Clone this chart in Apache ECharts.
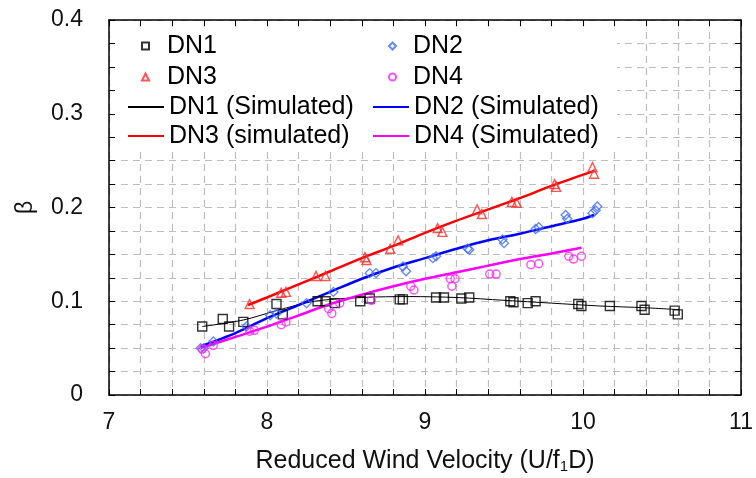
<!DOCTYPE html>
<html>
<head>
<meta charset="utf-8">
<script src="https://cdn.jsdelivr.net/npm/echarts@6/dist/echarts.min.js"></script>
<style>
  html, body { margin: 0; padding: 0; background: #fff; }
  #chart { width: 756px; height: 478px; }
</style>
</head>
<body>
<div id="chart"></div>
<script>
// ===== data =====
const dn1 = [[7.59,0.073],[7.72,0.081],[7.76,0.073],[7.85,0.078],[8.06,0.097],[8.10,0.086],[8.32,0.100],[8.37,0.100],
  [8.43,0.098],[8.59,0.100],[8.65,0.103],[8.84,0.102],[8.86,0.102],[9.07,0.104],[9.12,0.104],[9.23,0.103],[9.28,0.104],
  [9.54,0.100],[9.56,0.099],[9.65,0.098],[9.70,0.100],[9.97,0.097],[9.99,0.095],[10.17,0.095],[10.37,0.095],
  [10.39,0.091],[10.58,0.090],[10.60,0.086]]
const dn2 = [[7.58,0.050],[7.60,0.050],[7.66,0.057],[7.87,0.073],[8.02,0.085],[8.06,0.087],[8.25,0.098],[8.42,0.110],
  [8.65,0.130],[8.69,0.130],[8.86,0.137],[8.88,0.132],[9.05,0.146],[9.07,0.148],[9.27,0.156],[9.28,0.155],[9.49,0.166],
  [9.50,0.162],[9.70,0.177],[9.72,0.179],[9.89,0.192],[9.90,0.188],[10.06,0.194],[10.08,0.197],[10.09,0.201]]
const dn3 = [[7.89,0.097],[8.09,0.109],[8.12,0.110],[8.31,0.127],[8.37,0.127],[8.62,0.147],[8.63,0.144],[8.78,0.156],
  [8.83,0.165],[9.08,0.178],[9.11,0.174],[9.33,0.198],[9.36,0.193],[9.55,0.206],[9.58,0.205],[9.82,0.225],[9.83,0.222],
  [10.06,0.243],[10.07,0.236]]
const dn4 = [[7.59,0.049],[7.61,0.044],[7.66,0.053],[7.89,0.068],[7.92,0.069],[8.09,0.075],[8.12,0.078],[8.39,0.092],
  [8.41,0.087],[8.46,0.098],[8.66,0.101],[8.91,0.116],[8.93,0.112],[9.16,0.124],[9.19,0.124],[9.17,0.116],[9.41,0.129],
  [9.45,0.129],[9.67,0.139],[9.72,0.140],[9.91,0.148],[9.94,0.145],[9.99,0.148]]

const dn1Sim = [[7.59,0.073],[7.85,0.080],[8.06,0.090],[8.3,0.100],[8.6,0.104],[8.9,0.105],[9.2,0.104],[9.5,0.101],
  [9.8,0.098],[10.1,0.095],[10.4,0.093],[10.61,0.091]]
const dn2Sim = [[7.58,0.052],[7.8,0.066],[8.0,0.082],[8.2,0.096],[8.4,0.110],[8.6,0.124],[8.8,0.136],[9.0,0.146],
  [9.2,0.156],[9.4,0.165],[9.6,0.172],[9.8,0.180],[10.0,0.188],[10.07,0.192]]
const dn3Sim = [[7.88,0.096],[8.0,0.104],[8.2,0.118],[8.4,0.132],[8.6,0.146],[8.8,0.159],[9.0,0.173],[9.2,0.186],
  [9.4,0.198],[9.6,0.210],[9.8,0.223],[10.07,0.239]]
const dn4Sim = [[7.58,0.050],[7.8,0.062],[8.0,0.073],[8.2,0.085],[8.4,0.097],[8.6,0.107],[8.8,0.116],[9.0,0.124],
  [9.2,0.131],[9.4,0.138],[9.6,0.145],[9.8,0.151],[9.99,0.157]]

const FONT = '"Liberation Sans", Arial, sans-serif'
const gridLine = { show: true, lineStyle: { color: '#bdbdbd', type: [7, 5], width: 1.2 } }

// one legend per entry so the two columns land where the picture has them
function legendEntry(name, left, top, isLine, gap) {
  return {
    data: [name],
    left: left,
    top: top,
    padding: 0,
    itemGap: 0,
    selectedMode: false,
    itemWidth: isLine ? 36 : 7,
    itemHeight: isLine ? 2 : 7,
    formatter: isLine ? '{name}' : '{g|}{name}',
    textStyle: {
      fontFamily: FONT, fontSize: 25, color: '#000', lineHeight: 26,
      rich: { g: { width: gap } }
    }
  }
}

function scatter(name, data, symbol, color, size) {
  return {
    name, type: 'scatter', data, symbol, symbolSize: size,
    itemStyle: { color: 'transparent', borderColor: color, borderWidth: 1.4 },
    z: 3
  }
}

function simLine(name, data, color, width) {
  return {
    name, type: 'line', data, smooth: 0.3, symbol: 'none',
    lineStyle: { color, width }, itemStyle: { color }
  }
}

const chart = echarts.init(document.getElementById('chart'))
chart.setOption({
  animation: false,
  backgroundColor: '#fff',
  grid: { left: 109, right: 15, top: 20, bottom: 83, outerBoundsMode: 'none' },
  legend: [
    legendEntry('DN1', 141, 33, false, 13),
    legendEntry('DN3', 141, 64, false, 13),
    legendEntry('DN1 (Simulated)', 127, 94, true),
    legendEntry('DN3 (simulated)', 127, 123, true),
    legendEntry('DN2', 388, 33, false, 12),
    legendEntry('DN4', 388, 64, false, 12),
    legendEntry('DN2 (Simulated)', 372, 94, true),
    legendEntry('DN4 (Simulated)', 372, 123, true)
  ],
  graphic: {
    elements: [{
      type: 'rect', z: 1,
      shape: { x: 115, y: 27, width: 502, height: 123 },
      style: { fill: '#fff' }
    }]
  },
  xAxis: [{
    type: 'value', min: 7, max: 11, interval: 1,
    name: 'Reduced Wind Velocity (U/f{sub|1}D)',
    nameLocation: 'middle', nameGap: 53,
    nameTextStyle: {
      fontFamily: FONT, fontSize: 25, color: '#111',
      rich: { sub: { fontFamily: FONT, fontSize: 15, color: '#111', verticalAlign: 'bottom', padding: [11, 0, 0, 0] } }
    },
    axisLine: { lineStyle: { color: '#000', width: 1.5 } },
    axisTick: { inside: true, length: 6, lineStyle: { color: '#000' } },
    minorTick: { show: true, splitNumber: 5, length: 6, lineStyle: { color: '#000' } },
    axisLabel: { fontFamily: FONT, fontSize: 23, color: '#111', margin: 16 },
    splitLine: gridLine,
    minorSplitLine: gridLine
  }, {
    type: 'value', min: 7, max: 11, interval: 1, position: 'top',
    axisLine: { onZero: false, lineStyle: { color: '#000', width: 1.5 } },
    axisTick: { inside: true, length: 6, lineStyle: { color: '#000' } },
    minorTick: { show: true, splitNumber: 5, length: 6, lineStyle: { color: '#000' } },
    axisLabel: { show: false },
    splitLine: { show: false }
  }],
  yAxis: [{
    type: 'value', min: 0, max: 0.4, interval: 0.1,
    name: 'β', nameLocation: 'middle', nameGap: 72, nameRotate: 90,
    nameTextStyle: { fontFamily: FONT, fontSize: 23, color: '#111' },
    axisLine: { show: true, lineStyle: { color: '#000', width: 1.5 } },
    axisTick: { inside: true, length: 6, lineStyle: { color: '#000' } },
    minorTick: { show: true, splitNumber: 4, length: 6, lineStyle: { color: '#000' } },
    axisLabel: { fontFamily: FONT, fontSize: 23, color: '#111', margin: 26 },
    splitLine: gridLine,
    minorSplitLine: gridLine
  }, {
    type: 'value', min: 0, max: 0.4, interval: 0.1, position: 'right',
    axisLine: { show: true, onZero: false, lineStyle: { color: '#000', width: 1.5 } },
    axisTick: { inside: true, length: 6, lineStyle: { color: '#000' } },
    minorTick: { show: true, splitNumber: 4, length: 6, lineStyle: { color: '#000' } },
    axisLabel: { show: false },
    splitLine: { show: false }
  }],
  series: [
    simLine('DN1 (Simulated)', dn1Sim, '#000000', 1),
    simLine('DN2 (Simulated)', dn2Sim, '#0000ff', 2.5),
    simLine('DN3 (simulated)', dn3Sim, '#ff0000', 2.5),
    simLine('DN4 (Simulated)', dn4Sim, '#ff00ff', 2.5),
    scatter('DN1', dn1, 'rect', '#000000', 9),
    scatter('DN2', dn2, 'diamond', '#3f6cff', 9),
    scatter('DN3', dn3, 'triangle', '#ff2a2a', 9),
    scatter('DN4', dn4, 'circle', '#ff22ff', 8)
  ]
})
</script>
</body>
</html>
